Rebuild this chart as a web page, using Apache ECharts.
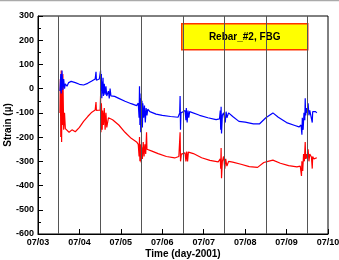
<!DOCTYPE html>
<html>
<head>
<meta charset="utf-8">
<script src="https://cdn.jsdelivr.net/npm/echarts@6/dist/echarts.min.js"></script>
<style>
  html, body { margin: 0; padding: 0; background: #fff; }
  #chart { width: 339px; height: 260px; }
</style>
</head>
<body>
<div id="chart"></div>
<script>
// x in days since 07/03 00:00 (2001)
const dayLabels = ['07/03', '07/04', '07/05', '07/06', '07/07', '07/08', '07/09', '07/10'];
const noonLines = [0.5, 1.5, 2.5, 3.5, 4.5, 5.5, 6.5];

const blueStrain = [
  [0.53, -10], [0.55, 60], [0.56, -20], [0.58, 75], [0.60, -5], [0.62, 40], [0.64, 0], [0.66, 20],
  [0.70, 10], [0.74, 25], [0.80, 30], [0.90, 25], [1.00, 18], [1.10, 15], [1.20, 22], [1.30, 32],
  [1.38, 40], [1.40, 70], [1.41, 35], [1.45, 42], [1.48, 40], [1.50, 38], [1.51, 75], [1.52, -10],
  [1.53, 60], [1.54, -40], [1.55, 30], [1.56, -20], [1.57, 45], [1.58, -30], [1.60, 20], [1.62, -25],
  [1.64, 10], [1.66, -30], [1.70, -10], [1.72, -40], [1.74, 0], [1.76, -30], [1.80, -30], [1.85, -32],
  [1.95, -40], [2.10, -52], [2.25, -62], [2.38, -70], [2.42, -60], [2.44, -120], [2.45, 10], [2.46, -150],
  [2.47, -40], [2.48, -180], [2.49, -20], [2.50, -130], [2.51, -50], [2.52, -160], [2.53, -60], [2.55, -120],
  [2.57, -70], [2.59, -140], [2.61, -80], [2.63, -110], [2.65, -85], [2.70, -95], [2.85, -105], [3.00, -110],
  [3.20, -115], [3.38, -118], [3.42, -100], [3.43, -30], [3.44, -170], [3.45, -100], [3.50, -95], [3.55, -90],
  [3.57, -130], [3.58, -80], [3.60, -140], [3.62, -90], [3.64, -120], [3.66, -95], [3.70, -98], [3.90, -110],
  [4.10, -120], [4.30, -128], [4.38, -125], [4.40, -90], [4.41, -170], [4.42, -75], [4.43, -185], [4.45, -110],
  [4.48, -100], [4.52, -140], [4.54, -95], [4.56, -120], [4.60, -100], [4.70, -115], [4.85, -135], [5.00, -138],
  [5.20, -145], [5.35, -145], [5.50, -120], [5.67, -100], [5.80, -118], [6.00, -140], [6.20, -152], [6.30, -158],
  [6.35, -150], [6.37, -190], [6.38, -120], [6.40, -170], [6.42, -100], [6.44, -130], [6.45, -40], [6.46, -110],
  [6.48, -80], [6.50, -100], [6.52, -60], [6.54, -110], [6.56, -90], [6.60, -95], [6.62, -140], [6.63, -95],
  [6.66, -100], [6.70, -95], [6.73, -100]
];

const redStrain = [
  [0.53, -100], [0.54, 40], [0.55, -200], [0.56, 75], [0.57, -220], [0.58, 30], [0.59, -150], [0.60, 60],
  [0.62, -170], [0.64, -100], [0.66, -165], [0.70, -165], [0.75, -180], [0.82, -170], [0.90, -178], [1.00, -160],
  [1.10, -135], [1.20, -115], [1.30, -97], [1.38, -88], [1.40, -55], [1.41, -90], [1.45, -85], [1.50, -88],
  [1.51, -30], [1.52, -180], [1.53, -60], [1.55, -170], [1.56, -90], [1.58, -150], [1.60, -80], [1.62, -170],
  [1.64, -100], [1.66, -160], [1.70, -120], [1.80, -128], [1.95, -150], [2.10, -180], [2.25, -205], [2.38, -220],
  [2.42, -230], [2.44, -280], [2.45, -200], [2.46, -300], [2.47, -230], [2.49, -305], [2.50, -240], [2.52, -290],
  [2.54, -220], [2.56, -280], [2.58, -230], [2.60, -270], [2.62, -180], [2.63, -250], [2.66, -245], [2.75, -258],
  [2.90, -268], [3.10, -280], [3.30, -286], [3.40, -280], [3.43, -180], [3.44, -300], [3.46, -270], [3.50, -262],
  [3.55, -265], [3.57, -300], [3.59, -260], [3.61, -300], [3.63, -262], [3.66, -255], [3.75, -268], [3.95, -285],
  [4.15, -296], [4.35, -302], [4.40, -290], [4.41, -330], [4.42, -245], [4.43, -370], [4.45, -300], [4.48, -280],
  [4.51, -330], [4.53, -290], [4.56, -320], [4.60, -300], [4.70, -303], [4.90, -312], [5.10, -322], [5.30, -325],
  [5.45, -305], [5.55, -300], [5.67, -295], [5.85, -308], [6.05, -318], [6.25, -323], [6.33, -320], [6.36, -360],
  [6.37, -300], [6.39, -340], [6.41, -270], [6.43, -300], [6.45, -220], [6.46, -290], [6.48, -270], [6.50, -290],
  [6.52, -250], [6.54, -300], [6.56, -270], [6.60, -282], [6.62, -330], [6.63, -280], [6.66, -290], [6.73, -285]
];

const chart = echarts.init(document.getElementById('chart'));
const font = 'Liberation Sans, Arial, Helvetica, sans-serif';

chart.setOption({
  animation: false,
  backgroundColor: '#fff',
  grid: {
    left: 38, top: 16, right: 11, bottom: 26, outerBoundsMode: 'none',
    show: true, borderColor: '#000', borderWidth: 1
  },
  xAxis: {
    type: 'value', min: 0, max: 7, interval: 1,
    name: 'Time (day-2001)', nameLocation: 'middle', nameGap: 15, nameMoveOverlap: false,
    nameTextStyle: { fontFamily: font, fontWeight: 'bold', fontSize: 10, color: '#000' },
    axisLine: { onZero: false, lineStyle: { color: '#000', width: 1 } },
    axisTick: { inside: true, length: 5, lineStyle: { color: '#000' } },
    axisLabel: {
      fontFamily: font, fontWeight: 'bold', fontSize: 9, color: '#000', margin: 4,
      formatter: v => dayLabels[Math.round(v)]
    },
    splitLine: { show: false }
  },
  yAxis: {
    type: 'value', min: -600, max: 300, interval: 100,
    name: 'Strain (µ)', nameLocation: 'middle', nameGap: 25, nameMoveOverlap: false,
    nameTextStyle: { fontFamily: font, fontWeight: 'bold', fontSize: 10, color: '#000' },
    axisLine: { onZero: false, lineStyle: { color: '#000', width: 1 } },
    axisTick: { inside: true, length: 5, lineStyle: { color: '#000' } },
    minorTick: { show: true, splitNumber: 2, length: 3, lineStyle: { color: '#000' } },
    axisLabel: { fontFamily: font, fontWeight: 'bold', fontSize: 9, color: '#000', margin: 4 },
    splitLine: { show: false }
  },
  graphic: [
    // thin grey rule along the top edge of the picture
    { type: 'line', shape: { x1: 0, y1: 0.5, x2: 339, y2: 0.5 },
      style: { stroke: '#aaaaaa', lineWidth: 1.5 } },
    {
      type: 'group', left: 181, top: 23,
      children: [
        { type: 'rect', shape: { x: 0, y: 0, width: 126, height: 26 },
          style: { fill: '#ffff00', stroke: '#ff3300', lineWidth: 1.5 } },
        { type: 'text', x: 63, y: 13,
          style: { text: 'Rebar_#2, FBG', fill: '#000', font: 'bold 10px ' + font, align: 'center', verticalAlign: 'middle' } }
      ]
    }
  ],
  series: [
    {
      type: 'line', data: redStrain, showSymbol: false, z: 3,
      lineStyle: { color: '#ff0000', width: 1.2 },
      markLine: {
        silent: true, symbol: 'none', label: { show: false },
        lineStyle: { color: '#555', width: 1, type: 'solid' },
        data: noonLines.map(d => ({ xAxis: d }))
      }
    },
    {
      type: 'line', data: blueStrain, showSymbol: false, z: 4,
      lineStyle: { color: '#0000ff', width: 1.2 }
    }
  ]
});
</script>
</body>
</html>
